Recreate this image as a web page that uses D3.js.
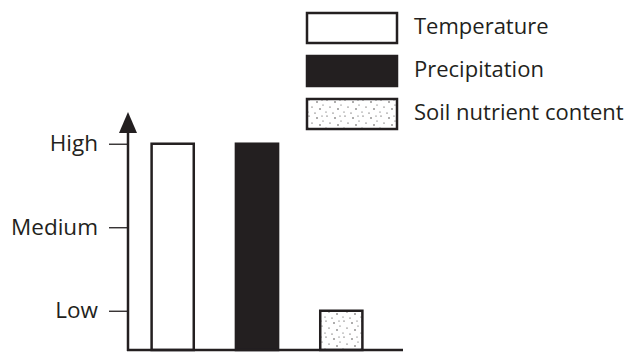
<!DOCTYPE html>
<html>
<head>
<meta charset="utf-8">
<script src="https://cdn.jsdelivr.net/npm/d3@7"></script>
<style>
  body { margin: 0; background: #fff; }
  text { font-family: "Open Sans", "Noto Sans", sans-serif; fill: #231f20; }
</style>
</head>
<body>
<div id="chart"></div>
<script>
// factors and their relative level (1 = Low, 2 = Medium, 3 = High)
const factors = ["Temperature", "Precipitation", "Soil nutrient content"];
const levels = [3, 3, 1];
const tickValues = [1, 2, 3];
const tickLabels = ["Low", "Medium", "High"];

const width = 635, height = 352;
const ink = "#231f20";

let svg = d3.select("#chart")
    .append("svg")
    .attr("width", width)
    .attr("height", height);

// stipple texture for soil nutrients
let defs = svg.append("defs");
let pat = defs.append("pattern")
    .attr("id", "stipple")
    .attr("patternUnits", "userSpaceOnUse")
    .attr("width", 18).attr("height", 16);
pat.append("rect").attr("width", 18).attr("height", 16).attr("fill", "#fff");
[[2, 1, 0.6], [10, 3, 0.7], [15, 1, 0.5], [5, 8, 0.6], [13, 10, 0.7], [1, 13, 0.5], [8, 14, 0.6], [16, 6, 0.5]]
    .forEach(p => pat.append("circle").attr("cx", p[0]).attr("cy", p[1]).attr("r", p[2]).attr("fill", ink));

let x = d3.scaleBand()
    .domain(factors)
    .range([128, 386])
    .paddingInner(0.5)
    .paddingOuter(0.28);

let y = d3.scaleLinear()
    .domain([0.53, 3.38])
    .range([350, 112]);

const fills = ["#fff", ink, "url(#stipple)"];

// bars
svg.selectAll(".bar")
    .data(factors)
    .join("rect")
    .attr("class", "bar")
    .attr("x", d => x(d))
    .attr("width", x.bandwidth())
    .attr("y", (d, i) => y(levels[i]))
    .attr("height", (d, i) => y.range()[0] - y(levels[i]))
    .attr("fill", (d, i) => fills[i])
    .attr("stroke", ink)
    .attr("stroke-width", 2.5);

// y axis with ticks on the left
let yAxis = svg.append("g")
    .attr("transform", "translate(128,0)")
    .call(d3.axisLeft(y).tickValues(tickValues).tickFormat((d, i) => tickLabels[i]).tickSize(19).tickPadding(11));
yAxis.select(".domain").remove();
yAxis.selectAll("line").attr("stroke", ink).attr("stroke-width", 1.3);
yAxis.selectAll("text").style("font-size", "22.5px").attr("fill", ink);

svg.append("line")
    .attr("x1", 128).attr("x2", 128)
    .attr("y1", y.range()[0] + 1).attr("y2", 128)
    .attr("stroke", ink).attr("stroke-width", 2.5);

// arrow head
svg.append("path")
    .attr("d", "M128,112 L137,133 L119,133 Z")
    .attr("fill", ink);

// x axis baseline
svg.append("line")
    .attr("x1", 127).attr("x2", 403)
    .attr("y1", y.range()[0]).attr("y2", y.range()[0])
    .attr("stroke", ink).attr("stroke-width", 2.5);

// legend
let legend = svg.selectAll(".legend")
    .data(factors)
    .join("g")
    .attr("class", "legend")
    .attr("transform", (d, i) => `translate(307,${13 + i * 43})`);

legend.append("rect")
    .attr("width", 90)
    .attr("height", 30)
    .attr("fill", (d, i) => fills[i])
    .attr("stroke", ink)
    .attr("stroke-width", 2.5);

legend.append("text")
    .attr("x", 107)
    .attr("y", 15)
    .attr("dominant-baseline", "middle")
    .style("font-size", "22px")
    .text(d => d);
</script>
</body>
</html>
